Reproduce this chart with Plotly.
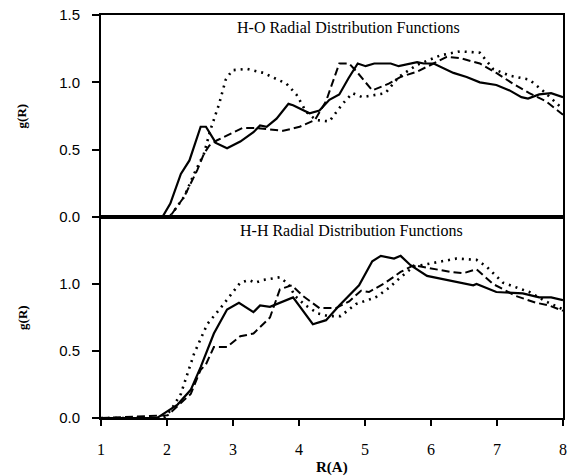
import plotly.graph_objects as go

# ---- H-O panel data ----
ho_solid_r = [1.0, 1.93, 2.05, 2.21, 2.34, 2.51, 2.59, 2.74, 2.91, 3.11, 3.31, 3.41, 3.51, 3.66, 3.84, 3.91,
              4.16, 4.31, 4.46, 4.61, 4.75, 4.89, 5.01, 5.14, 5.39, 5.51, 5.79, 5.89, 6.04, 6.34, 6.54, 6.74,
              6.99, 7.19, 7.37, 7.47, 7.64, 7.82, 8.0]
ho_solid_g = [0, 0, 0.10, 0.32, 0.42, 0.67, 0.67, 0.55, 0.51, 0.56, 0.63, 0.68, 0.67, 0.73, 0.84, 0.83,
              0.77, 0.79, 0.87, 0.91, 1.03, 1.14, 1.12, 1.14, 1.14, 1.12, 1.15, 1.14, 1.14, 1.07, 1.04, 1.00,
              0.98, 0.94, 0.89, 0.88, 0.91, 0.92, 0.89]

ho_dash_r = [1.0, 2.04, 2.26, 2.46, 2.56, 2.64, 2.76, 2.96, 3.14, 3.36, 3.56, 3.76, 4.01, 4.24, 4.41, 4.61,
             4.76, 4.89, 5.11, 5.36, 5.54, 5.79, 6.04, 6.24, 6.44, 6.74, 6.99, 7.24, 7.49, 7.74, 8.0]
ho_dash_g = [0, 0, 0.15, 0.35, 0.47, 0.53, 0.57, 0.62, 0.66, 0.66, 0.65, 0.64, 0.67, 0.72, 0.86, 1.14,
             1.14, 1.07, 0.94, 0.99, 1.04, 1.08, 1.14, 1.19, 1.18, 1.14, 1.07, 0.99, 0.92, 0.86, 0.76]

ho_dot_r = [1.0, 2.04, 2.26, 2.41, 2.56, 2.66, 2.79, 2.89, 2.99, 3.21, 3.46, 3.81, 3.96, 4.11, 4.26, 4.46,
            4.66, 4.81, 4.96, 5.31, 5.51, 5.79, 6.14, 6.44, 6.74, 6.94, 7.19, 7.49, 7.69, 8.0]
ho_dot_g = [0, 0, 0.15, 0.32, 0.47, 0.65, 0.84, 1.02, 1.09, 1.10, 1.07, 0.99, 0.91, 0.78, 0.72, 0.71,
            0.84, 0.92, 0.89, 0.92, 1.04, 1.13, 1.20, 1.23, 1.22, 1.10, 1.05, 1.02, 0.94, 0.80]

# ---- H-H panel data ----
hh_solid_r = [1.0, 1.85, 1.91, 2.16, 2.36, 2.51, 2.71, 2.91, 3.09, 3.31, 3.41, 3.56, 3.91, 4.21, 4.41, 4.61,
              4.91, 5.11, 5.24, 5.44, 5.54, 5.69, 5.94, 6.34, 6.64, 6.69, 6.99, 7.39, 7.64, 7.82, 8.0]
hh_solid_g = [0, 0, 0.02, 0.10, 0.21, 0.38, 0.63, 0.81, 0.86, 0.79, 0.84, 0.83, 0.90, 0.70, 0.73, 0.84,
              0.99, 1.17, 1.21, 1.19, 1.21, 1.14, 1.06, 1.02, 0.99, 1.00, 0.94, 0.93, 0.90, 0.90, 0.88]

hh_dash_r = [1.0, 2.01, 2.36, 2.51, 2.59, 2.71, 2.91, 3.11, 3.31, 3.56, 3.71, 3.89, 4.06, 4.31, 4.56, 4.76,
             4.94, 5.06, 5.31, 5.54, 5.74, 6.04, 6.29, 6.49, 6.69, 6.94, 7.29, 7.59, 7.79, 8.0]
hh_dash_g = [0, 0.02, 0.18, 0.36, 0.40, 0.53, 0.53, 0.61, 0.63, 0.75, 0.96, 0.99, 0.91, 0.82, 0.82, 0.87,
             0.95, 0.94, 1.01, 1.09, 1.14, 1.11, 1.09, 1.08, 1.11, 1.00, 0.91, 0.86, 0.84, 0.80]

hh_dot_r = [1.0, 1.95, 2.06, 2.21, 2.41, 2.61, 2.81, 3.01, 3.11, 3.24, 3.34, 3.46, 3.71, 3.84, 3.94, 4.1,
            4.29, 4.45, 4.63, 4.86, 5.16, 5.36, 5.54, 5.74, 6.09, 6.39, 6.69, 6.84, 7.09, 7.49, 7.74, 8.0]
hh_dot_g = [0, 0, 0.06, 0.18, 0.48, 0.70, 0.82, 0.95, 1.01, 1.03, 1.01, 1.03, 1.05, 1.00, 0.91, 0.84,
            0.78, 0.76, 0.76, 0.85, 0.90, 0.97, 1.05, 1.13, 1.16, 1.19, 1.18, 1.13, 1.01, 0.94, 0.87, 0.81]

x_ticks = [1, 2, 3, 4, 5, 6, 7, 8]
top_y_ticks = [0.0, 0.5, 1.0, 1.5]
bot_y_ticks = [0.0, 0.5, 1.0]
title_ho = "H-O Radial Distribution Functions"
title_hh = "H-H Radial Distribution Functions"

SERIF = "Liberation Serif"
SANS = "Liberation Sans"
styles = {
    "solid": dict(color="black", width=2.2, dash="solid"),
    "dash": dict(color="black", width=2.0, dash="8px,4px"),
    "dot": dict(color="black", width=2.6, dash="2px,5px"),
}

fig = go.Figure()
for r, g, s in [(ho_solid_r, ho_solid_g, "solid"), (ho_dash_r, ho_dash_g, "dash"), (ho_dot_r, ho_dot_g, "dot")]:
    fig.add_trace(go.Scatter(x=r, y=g, mode="lines", line=styles[s], xaxis="x2", yaxis="y2", showlegend=False))
for r, g, s in [(hh_solid_r, hh_solid_g, "solid"), (hh_dash_r, hh_dash_g, "dash"), (hh_dot_r, hh_dot_g, "dot")]:
    fig.add_trace(go.Scatter(x=r, y=g, mode="lines", line=styles[s], xaxis="x", yaxis="y", showlegend=False))

axis_common = dict(showline=True, linecolor="black", linewidth=2, mirror=True, showgrid=False, zeroline=False)
ytick_font = dict(family=SANS, size=15, color="black")
xtick_font = dict(family=SERIF, size=16, color="black")

fig.update_layout(
    width=571, height=476,
    margin=dict(l=101, r=4, t=15, b=58),
    paper_bgcolor="white", plot_bgcolor="white",
    xaxis=dict(**axis_common, range=[1, 8], tickvals=x_ticks, ticks="outside", ticklen=6,
               tickwidth=1.5, tickcolor="black", anchor="y", domain=[0, 1],
               tickfont=xtick_font, ticklabelstandoff=10),
    yaxis=dict(**axis_common, range=[0, 1.5], tickvals=bot_y_ticks, ticktext=["0.0", "0.5", "1.0"],
               ticks="outside", ticklen=7, tickwidth=1.5, tickcolor="black", domain=[0, 0.4988], anchor="x",
               tickfont=ytick_font, ticklabelstandoff=9),
    xaxis2=dict(**axis_common, range=[1, 8], showticklabels=False, ticks="", matches="x",
                anchor="y2", domain=[0, 1]),
    yaxis2=dict(**axis_common, range=[0, 1.5], tickvals=top_y_ticks, ticktext=["0.0", "0.5", "1.0", "1.5"],
                ticks="outside", ticklen=7, tickwidth=1.5, tickcolor="black", domain=[0.4988, 1], anchor="x2",
                tickfont=ytick_font, ticklabelstandoff=9),
    annotations=[
        dict(text=title_ho, x=351, y=1.41, xref="paper", yref="y2", showarrow=False,
             font=dict(family=SERIF, size=16, color="black")),
        dict(text=title_hh, x=354, y=1.40, xref="paper", yref="y", showarrow=False,
             font=dict(family=SERIF, size=16, color="black")),
        dict(text="<b>g(R)</b>", x=-0.17, y=0.75, xref="paper", yref="y2", textangle=-90, showarrow=False,
             xanchor="center", yanchor="middle", font=dict(family=SERIF, size=13, color="black")),
        dict(text="<b>g(R)</b>", x=-0.17, y=0.75, xref="paper", yref="y", textangle=-90, showarrow=False,
             xanchor="center", yanchor="middle", font=dict(family=SERIF, size=13, color="black")),
        dict(text="<b>R(A)</b>", x=0.5, y=-0.1216, xref="paper", yref="paper", showarrow=False,
             xanchor="center", yanchor="middle", font=dict(family=SERIF, size=15, color="black")),
    ],
)
# convert title x-positions from pixels to paper
for a in fig.layout.annotations[:2]:
    a.x = (a.x - 101) / (571 - 101 - 4)

fig.write_html("out.html")
